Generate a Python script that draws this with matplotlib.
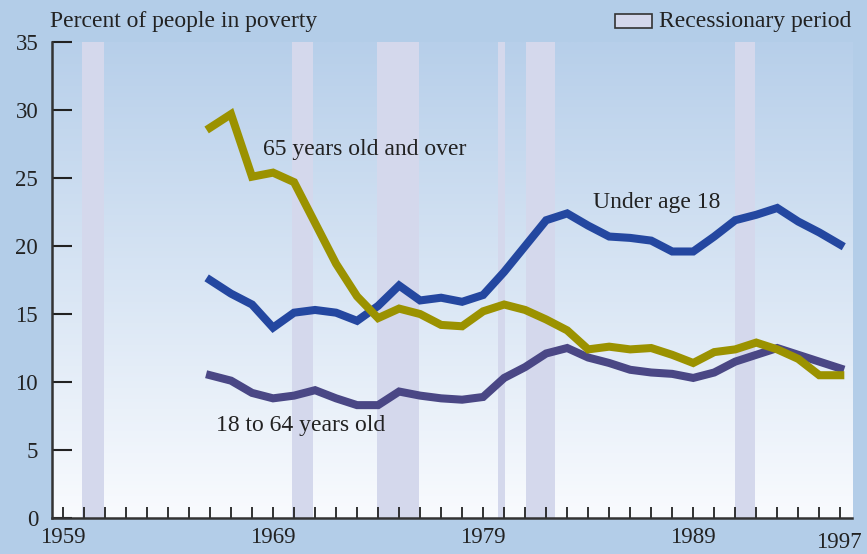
import numpy as np
import matplotlib.pyplot as plt
import matplotlib.patches as mpatches
from matplotlib.colors import LinearSegmentedColormap

plt.rcParams['font.family'] = ['Liberation Serif', 'DejaVu Serif']

years = list(range(1966, 1997))
under18 = [17.5, 16.5, 15.7, 14.0, 15.1, 15.3, 15.1, 14.5, 15.6, 17.1,
           16.0, 16.2, 15.9, 16.4, 18.1, 20.0, 21.9, 22.4, 21.5, 20.7,
           20.6, 20.4, 19.6, 19.6, 20.7, 21.9, 22.3, 22.8, 21.8, 21.0, 20.1]
over65 = [28.7, 29.7, 25.1, 25.4, 24.7, 21.7, 18.7, 16.3, 14.7, 15.4,
          15.0, 14.2, 14.1, 15.2, 15.7, 15.3, 14.6, 13.8, 12.4, 12.6,
          12.4, 12.5, 12.0, 11.4, 12.2, 12.4, 12.9, 12.4, 11.7, 10.5, 10.5]
age18_64 = [10.5, 10.1, 9.2, 8.8, 9.0, 9.4, 8.8, 8.3, 8.3, 9.3,
            9.0, 8.8, 8.7, 8.9, 10.3, 11.1, 12.1, 12.5, 11.8, 11.4,
            10.9, 10.7, 10.6, 10.3, 10.7, 11.5, 12.0, 12.5, 12.0, 11.5, 11.0]

recessions = [(1959.9, 1960.95), (1969.9, 1970.9), (1973.95, 1975.95),
              (1979.7, 1980.05), (1981.05, 1982.4), (1991.0, 1991.95)]

tick_years = list(range(1959, 1997))
label_years = [1959, 1969, 1979, 1989]

bg = '#b3cde8'
fig = plt.figure(figsize=(8.67, 5.54), dpi=100, facecolor=bg)
ax = fig.add_axes([0.060, 0.065, 0.923, 0.859])
ax.set_xlim(1958.48, 1996.57)
ax.set_ylim(0, 35)

# gradient panel
cmap = LinearSegmentedColormap.from_list('g', ['#f9fbfe', '#b7cfea'])
grad = np.linspace(0, 1, 256).reshape(-1, 1)
ax.imshow(grad, cmap=cmap, extent=[1958.48, 1996.57, 0, 35], aspect='auto',
          origin='lower', zorder=0)

for a, b in recessions:
    ax.axvspan(a, b, ymin=0, ymax=1, color='#d4d8ec', lw=0, zorder=1)

ax.plot(years, under18, color='#2447a0', lw=5.8, zorder=3, solid_joinstyle='miter')
ax.plot(years, age18_64, color='#4a4785', lw=5.8, zorder=3, solid_joinstyle='miter')
ax.plot(years, over65, color='#9b9200', lw=5.8, zorder=4, solid_joinstyle='miter')

txt = '#222222'
ax.text(1968.5, 27.1, '65 years old and over', fontsize=17, color=txt, va='center')
ax.text(1984.24, 23.2, 'Under age 18', fontsize=17, color=txt, va='center')
ax.text(1966.3, 6.8, '18 to 64 years old', fontsize=17, color=txt, va='center')

for s in ['top', 'right']:
    ax.spines[s].set_visible(False)
for s in ['left', 'bottom']:
    ax.spines[s].set_color('#333333')
    ax.spines[s].set_linewidth(1.8)
    ax.spines[s].set_zorder(5)

ax.set_yticks(range(0, 36, 5))
ax.tick_params(axis='y', direction='in', length=14.5, width=1.5, color='#222222',
               labelsize=16.5, labelcolor=txt, pad=10)
ax.set_xticks(tick_years)
ax.set_xticklabels([str(y) if y in label_years else '' for y in tick_years])
ax.tick_params(axis='x', direction='in', length=8, width=1.3, color='#222222',
               labelsize=16.5, labelcolor=txt, pad=6.5)
ax.text(1995.95, -1.05, '1997', fontsize=16.5, color=txt, ha='center', va='top')

fig.text(0.058, 0.962, 'Percent of people in poverty', fontsize=17, color=txt, va='center')
fig.patches.append(mpatches.Rectangle((615 / 867, 1 - 28 / 554), 37 / 867, 14 / 554,
                                      transform=fig.transFigure, facecolor='#d4d8ec',
                                      edgecolor='#333333', lw=1.2))
fig.text(659 / 867, 0.962, 'Recessionary period', fontsize=17, color=txt, va='center')

fig.savefig('out.png', dpi=100, facecolor=bg)
